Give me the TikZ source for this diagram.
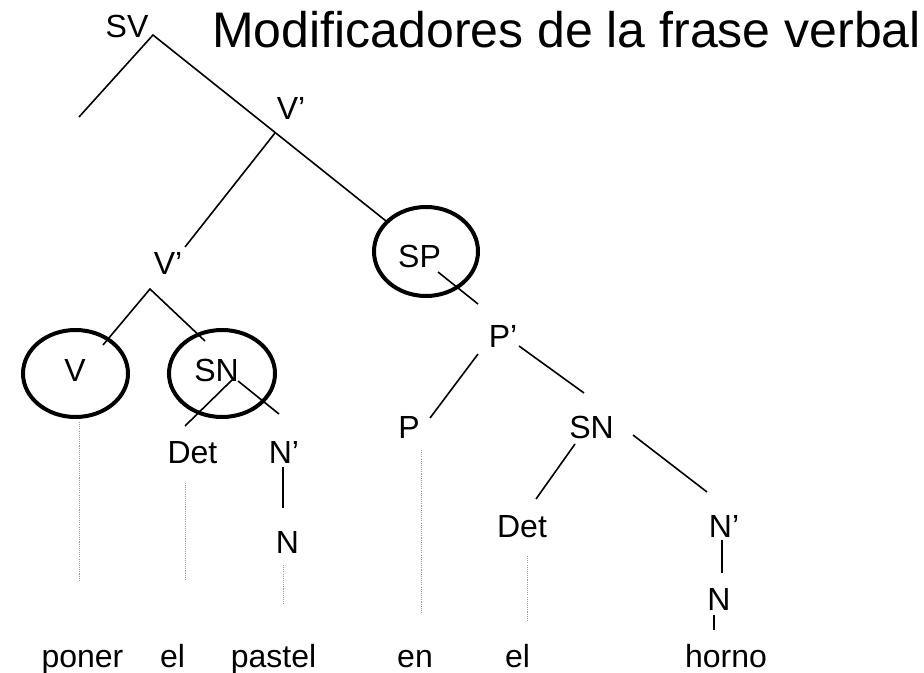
\documentclass[tikz,border=0pt]{standalone}
\usepackage{fontspec}
\setmainfont{Liberation Sans}
\usetikzlibrary{shapes.geometric}
\begin{document}
\begin{tikzpicture}[x=0.75pt,y=-0.75pt,
  lbl/.style={anchor=base,inner sep=0pt,font=\fontsize{24}{28}\selectfont},
  ttl/.style={anchor=base west,inner sep=0pt,font=\fontsize{37.5}{44}\selectfont},
  branch/.style={line width=1.2pt,black},
  ring/.style={draw,ellipse,line width=3pt,inner sep=0pt},
  dots/.style={line width=0.7pt,gray!80,dash pattern=on 0.8pt off 0.8pt}]
\useasboundingbox (0,0) rectangle (924,673);
% title
\node[ttl] (title) at (212,48) {Modificadores de la frase verbal};
% labels
\node[lbl] (sv) at (127,38) {SV};
\node[lbl] (vb1) at (291,120) {V’};
\node[lbl] (vb2) at (168,275) {V’};
\node[lbl] (v) at (75,382) {V};
\node[lbl] (sn1) at (216.5,382) {SN};
\node[lbl] (det1) at (192.5,463) {Det};
\node[lbl] (nb1) at (284,463) {N’};
\node[lbl] (n1) at (287.5,553) {N};
\node[lbl] (sp) at (419.5,268) {SP};
\node[lbl] (pb) at (503,348) {P’};
\node[lbl] (p) at (409,438) {P};
\node[lbl] (sn2) at (591.5,438) {SN};
\node[lbl] (det2) at (522,537) {Det};
\node[lbl] (nb2) at (724,537) {N’};
\node[lbl] (n2) at (719,610) {N};
% words
\node[lbl] (w1) at (82.5,667) {poner};
\node[lbl] (w2) at (172.5,667) {el};
\node[lbl] (w3) at (273.5,667) {pastel};
\node[lbl] (w4) at (415,667) {en};
\node[lbl] (w5) at (517.5,667) {el};
\node[lbl] (w6) at (726,667) {horno};
% rings
\node[ring,minimum width=78.75pt,minimum height=65.25pt] (ringv) at (75.5,373.5) {};
\node[ring,minimum width=79.5pt,minimum height=65.25pt] (ringsn) at (222,373.5) {};
\node[ring,minimum width=78pt,minimum height=66.75pt] (ringsp) at (426,251.5) {};
% coordinates
\coordinate (a0) at (153,35);
\coordinate (a1) at (79,117);
\coordinate (a2) at (386,221);
\coordinate (b0) at (275,133);
\coordinate (b1) at (185,247);
\coordinate (c0) at (150,289);
\coordinate (c1) at (103,345);
\coordinate (c2) at (205,341);
\coordinate (d0) at (232,380);
\coordinate (d1) at (185,426);
\coordinate (d2) at (238,381);
\coordinate (d3) at (279,414);
\coordinate (e0) at (283,467);
\coordinate (e1) at (283,508);
\coordinate (f0) at (438,272);
\coordinate (f1) at (478,304);
\coordinate (g0) at (478,354);
\coordinate (g1) at (430,418);
\coordinate (g2) at (519,346);
\coordinate (g3) at (584,393);
\coordinate (h0) at (575,444);
\coordinate (h1) at (536,499);
\coordinate (h2) at (633,435);
\coordinate (h3) at (707,492);
\coordinate (i0) at (722,540);
\coordinate (i1) at (722,573);
\coordinate (j0) at (714,615);
\coordinate (j1) at (714,630);
\coordinate (k0) at (79,422);
\coordinate (k1) at (79,580);
\coordinate (l0) at (185,483);
\coordinate (l1) at (185,580);
\coordinate (m0) at (283,565);
\coordinate (m1) at (283,604);
\coordinate (o0) at (421,450);
\coordinate (o1) at (421,613);
\coordinate (q0) at (527,556);
\coordinate (q1) at (527,621);
% branches
\draw[branch] (a1) -- (a0) -- (a2);
\draw[branch] (b0) -- (b1);
\draw[branch] (c1) -- (c0) -- (c2);
\draw[branch] (d0) -- (d1);
\draw[branch] (d2) -- (d3);
\draw[branch] (e0) -- (e1);
\draw[branch] (f0) -- (f1);
\draw[branch] (g0) -- (g1);
\draw[branch] (g2) -- (g3);
\draw[branch] (h0) -- (h1);
\draw[branch] (h2) -- (h3);
\draw[branch] (i0) -- (i1);
\draw[branch] (j0) -- (j1);
% dotted leads
\draw[dots] (k0) -- (k1);
\draw[dots] (l0) -- (l1);
\draw[dots] (m0) -- (m1);
\draw[dots] (o0) -- (o1);
\draw[dots] (q0) -- (q1);
\end{tikzpicture}
\end{document}
